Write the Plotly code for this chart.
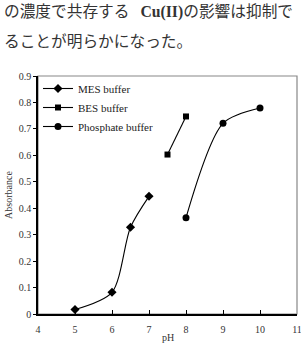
import plotly.graph_objects as go

mes_ph = [5, 6, 6.5, 7]
mes_abs = [0.017, 0.082, 0.328, 0.445]
bes_ph = [7.5, 8]
bes_abs = [0.603, 0.747]
pho_ph = [8, 9, 10]
pho_abs = [0.364, 0.721, 0.779]

x_ticks = [4, 5, 6, 7, 8, 9, 10, 11]
y_ticks = [0, 0.1, 0.2, 0.3, 0.4, 0.5, 0.6, 0.7, 0.8, 0.9]
y_labels = ["0", "0.1", "0.2", "0.3", "0.4", "0.5", "0.6", "0.7", "0.8", "0.9"]

text_line1 = "の濃度で共存する\u2002\u2009<span style='font-family:Liberation Serif'><b>Cu(II)</b></span>の影響は抑制で"
text_line2 = "ることが明らかになった。"
x_title = "pH"

fig = go.Figure()
fig.add_trace(go.Scatter(x=mes_ph, y=mes_abs, name="MES buffer", mode="lines+markers",
                         line=dict(color="black", width=1.1, shape="spline", smoothing=0.8),
                         marker=dict(symbol="diamond", size=7, color="black")))
fig.add_trace(go.Scatter(x=bes_ph, y=bes_abs, name="BES buffer", mode="lines+markers",
                         line=dict(color="black", width=1.1),
                         marker=dict(symbol="square", size=6, color="black")))
fig.add_trace(go.Scatter(x=pho_ph, y=pho_abs, name="Phosphate buffer", mode="lines+markers",
                         line=dict(color="black", width=1.1, shape="spline", smoothing=0.8),
                         marker=dict(symbol="circle", size=7, color="black")))

fig.update_layout(
    width=301, height=343,
    margin=dict(l=38, r=4, t=76, b=29),
    paper_bgcolor="white", plot_bgcolor="white",
    font=dict(family="Liberation Serif", color="#333", size=10),
    showlegend=True,
    legend=dict(x=0.0, y=1 + 2 / 238, xanchor="left", yanchor="top",
                bgcolor="rgba(0,0,0,0)", font=dict(size=11, family="Liberation Serif", color="#222"),
                tracegroupgap=0, itemwidth=30),
    xaxis=dict(range=[4, 11], tickvals=x_ticks, ticktext=[str(v) for v in x_ticks],
               showgrid=False, zeroline=False, showline=True, linecolor="black", linewidth=1.5,
               ticks="inside", ticklen=4, tickcolor="black", mirror=False, automargin=False,
               ticklabeloverflow="allow", ticklabelstandoff=5,
               tickfont=dict(size=10, family="Liberation Serif", color="#333")),
    yaxis=dict(range=[0, 0.9], tickvals=y_ticks, ticktext=y_labels, automargin=False,
               showgrid=False, zeroline=False, showline=True, linecolor="black", linewidth=1.5,
               ticks="outside", ticklen=3, tickcolor="black",
               tickfont=dict(size=10, family="Liberation Serif", color="#333"),
               title=dict(text="Absorbance", font=dict(size=10), standoff=4)),
)
# gray frame top/right
fig.add_shape(type="rect", xref="paper", yref="paper", x0=0, y0=0, x1=1, y1=1,
              line=dict(color="#888", width=1.2), layer="below")

fig.add_annotation(text=x_title, xref="paper", yref="paper", x=0.5, y=-(337 - 314) / 238,
                   xanchor="center", yanchor="middle", showarrow=False,
                   font=dict(family="Liberation Serif", size=10, color="#333"))
fig.add_annotation(text=text_line1, xref="paper", yref="paper", x=-36/259, y=1 + (76 - 10) / 238,
                   xanchor="left", yanchor="middle", showarrow=False,
                   font=dict(family="Noto Sans CJK JP", size=15.7, color="#333"))
fig.add_annotation(text=text_line2, xref="paper", yref="paper", x=-36/259, y=1 + (76 - 40) / 238,
                   xanchor="left", yanchor="middle", showarrow=False,
                   font=dict(family="Noto Sans CJK JP", size=15.7, color="#333"))

fig.write_html("out.html")
